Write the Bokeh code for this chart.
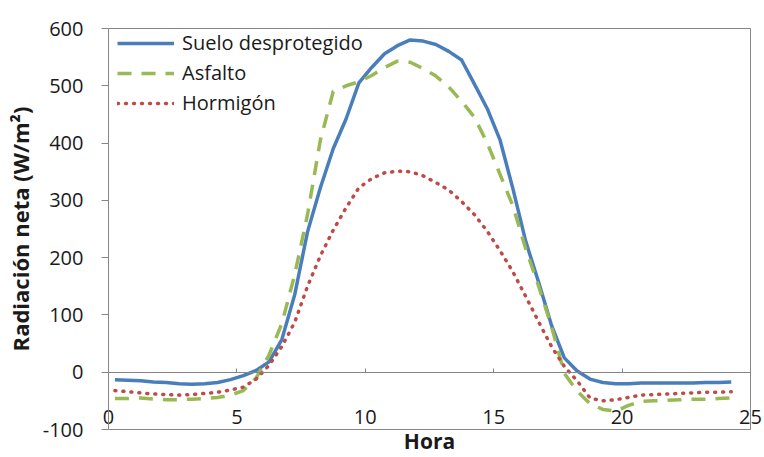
from bokeh.plotting import figure
from bokeh.models import Range1d, FixedTicker, LinearAxis
from bokeh.embed import file_html
from bokeh.resources import INLINE

# ---- data ----
HOURS = [0.25, 0.75, 1.25, 1.75, 2.25, 2.75, 3.25, 3.75, 4.25, 4.75,
         5.25, 5.75, 6.25, 6.75, 7.25, 7.75, 8.25, 8.75, 9.25, 9.75,
         10.25, 10.75, 11.25, 11.75, 12.25, 12.75, 13.25, 13.75, 14.25, 14.75,
         15.25, 15.75, 16.25, 16.75, 17.25, 17.75, 18.25, 18.75, 19.25, 19.75,
         20.25, 20.75, 21.25, 21.75, 22.25, 22.75, 23.25, 23.75, 24.25]

SUELO = [-13, -14, -15, -17, -18, -20, -21, -20, -18, -13,
         -6, 3, 18, 57, 135, 245, 322, 390, 442, 505,
         532, 556, 570, 580, 578, 572, 560, 545, 503, 460,
         405, 320, 228, 157, 82, 25, 2, -12, -18, -20,
         -20, -19, -19, -19, -19, -19, -18, -18, -17]

ASFALTO = [-46, -46, -45, -47, -48, -48, -47, -46, -44, -40,
           -32, -10, 30, 85, 170, 275, 405, 490, 500, 507,
           518, 532, 543, 541, 530, 517, 498, 473, 445, 400,
           345, 290, 215, 150, 80, -2, -33, -55, -65, -68,
           -58, -51, -50, -49, -48, -47, -47, -46, -45]

HORMIGON = [-32, -34, -36, -38, -39, -40, -39, -37, -35, -31,
            -26, -12, 12, 45, 87, 150, 203, 248, 287, 322,
            338, 348, 351, 350, 343, 331, 318, 298, 275, 246,
            212, 175, 132, 88, 45, 10, -15, -45, -50, -48,
            -44, -40, -39, -38, -37, -36, -35, -35, -34]

SERIES_NAMES = ["Suelo desprotegido", "Asfalto", "Hormigón"]
X_TICKS = [0, 5, 10, 15, 20, 25]
Y_TICKS = [-100, 0, 100, 200, 300, 400, 500, 600]
Y_TICK_LABELS = ["-100", "0", "100", "200", "300", "400", "500", "600"]

FONT = "Open Sans"
GRAY = "#868686"
TXT = "#1a1a1a"

p = figure(width=764, height=457, output_backend="svg", toolbar_location=None,
           x_range=Range1d(0, 25), y_range=Range1d(-100, 600),
           min_border_left=108, min_border_right=14,
           min_border_top=28, min_border_bottom=28)
p.grid.visible = False
p.outline_line_color = GRAY
p.outline_line_width = 1
p.background_fill_color = "white"
p.border_fill_color = "white"

# y axis
yax = p.yaxis[0]
yax.ticker = FixedTicker(ticks=Y_TICKS)
yax.major_label_overrides = dict(zip(Y_TICKS, Y_TICK_LABELS))
yax.axis_line_color = GRAY
yax.major_tick_line_color = GRAY
yax.major_tick_in = 0
yax.major_tick_out = 7
yax.minor_tick_line_color = None
yax.major_label_text_font = FONT
yax.major_label_text_font_size = "20px"
yax.major_label_text_color = TXT
yax.major_label_standoff = 18
yax.axis_label = "Radiación neta (W/m²)"
yax.axis_label_text_font = FONT
yax.axis_label_text_font_style = "bold"
yax.axis_label_text_font_size = "22px"
yax.axis_label_text_color = TXT
yax.axis_label_standoff = 5

# x axis labels (below the frame, pulled up inside it)
xax = p.xaxis[0]
xax.ticker = FixedTicker(ticks=X_TICKS)
xax.axis_line_color = None
xax.major_tick_line_color = None
xax.major_tick_in = 0
xax.major_tick_out = 0
xax.minor_tick_line_color = None
xax.major_label_text_font = FONT
xax.major_label_text_font_size = "20px"
xax.major_label_text_color = TXT
xax.major_label_standoff = -20
xax.axis_label = "Hora"
xax.axis_label_text_font = FONT
xax.axis_label_text_font_style = "bold"
xax.axis_label_text_font_size = "21px"
xax.axis_label_text_color = TXT
xax.axis_label_standoff = 0

# horizontal axis line crossing at y = 0, with its tick marks
zax = LinearAxis(fixed_location=0, ticker=FixedTicker(ticks=X_TICKS),
                 axis_line_color=GRAY, major_tick_line_color=GRAY,
                 major_tick_in=4, major_tick_out=0,
                 minor_tick_line_color=None,
                 major_label_text_color=None, major_label_text_font_size="1px",
                 major_label_standoff=0)
p.add_layout(zax, "below")

p.line(HOURS, SUELO, line_color="#4A7EBB", line_width=3.5,
       line_join="round", legend_label=SERIES_NAMES[0])
p.line(HOURS, ASFALTO, line_color="#98B954", line_width=3.5,
       line_dash="14 10", legend_label=SERIES_NAMES[1])
p.line(HOURS, HORMIGON, line_color="#BE4B48", line_width=3.5,
       line_dash="1 7", line_cap="round", legend_label=SERIES_NAMES[2])

lg = p.legend[0]
lg.location = (9, 313)
lg.border_line_color = None
lg.background_fill_alpha = 0
lg.margin = 0
lg.padding = 9
lg.glyph_width = 57
lg.glyph_height = 20
lg.label_height = 20
lg.label_standoff = 8
lg.spacing = 3
lg.label_text_font = FONT
lg.label_text_font_size = "20px"
lg.label_text_color = TXT

open("out.html", "w").write(file_html(p, INLINE))
